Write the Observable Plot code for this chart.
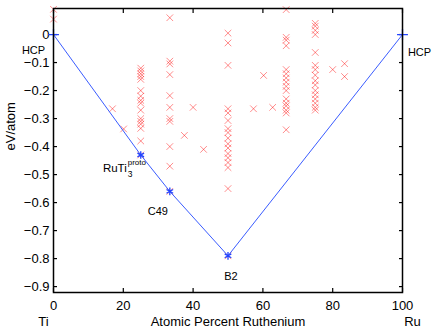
<!DOCTYPE html>
<html>
<head>
<meta charset="utf-8">
<script src="https://cdn.jsdelivr.net/npm/d3@7"></script>
<script src="https://cdn.jsdelivr.net/npm/@observablehq/plot@0.6"></script>
<style>
  body { margin: 0; background: #fff; }
  #chart svg { display: block; }
</style>
</head>
<body>
<div id="chart"></div>
<script>
// Formation energies (eV/atom) of candidate structures, by atomic percent Ru
const structX = [
  0, 0,
  16.9, 20.1,
  25, 25, 25, 25, 25, 25, 25, 25, 25, 25, 25, 25, 25, 25, 25, 25,
  33.33, 33.33, 33.33, 33.33, 33.33, 33.33, 33.33, 33.33, 33.33, 33.33, 33.33,
  37.5, 40, 43,
  50, 50, 50, 50, 50, 50, 50, 50, 50, 50, 50, 50, 50, 50, 50, 50, 50,
  57.3, 60.2, 62.8,
  66.67, 66.67, 66.67, 66.67, 66.67, 66.67, 66.67, 66.67, 66.67, 66.67, 66.67, 66.67, 66.67, 66.67, 66.67, 66.67,
  75, 75, 75, 75, 75, 75, 75, 75, 75, 75, 75, 75, 75, 75, 75, 75,
  80, 83.4, 83.4
];
const structE = [
  0.09, 0.055,
  -0.265, -0.337,
  -0.12, -0.13, -0.14, -0.15, -0.16, -0.20, -0.22, -0.235, -0.245, -0.27, -0.30, -0.31, -0.32, -0.335, -0.38, -0.43,
  0.06, -0.095, -0.105, -0.143, -0.218, -0.26, -0.30, -0.31, -0.40, -0.47, -0.56,
  -0.36, -0.26, -0.41,
  0.005, -0.03, -0.11, -0.265, -0.28, -0.307, -0.336, -0.35, -0.37, -0.39, -0.405, -0.425, -0.44, -0.457, -0.475, -0.55, -0.79,
  -0.265, -0.146, -0.26,
  0.089, -0.01, -0.02, -0.04, -0.125, -0.14, -0.155, -0.17, -0.185, -0.20, -0.23, -0.245, -0.255, -0.27, -0.28, -0.34,
  0.04, 0.03, 0.015, 0.0, -0.064, -0.11, -0.125, -0.145, -0.165, -0.18, -0.20, -0.215, -0.23, -0.245, -0.26, -0.27,
  -0.125, -0.104, -0.15
];
// Convex hull (ground states)
const hullX = [0, 25, 33.33, 50, 100];
const hullE = [0, -0.43, -0.56, -0.79, 0];
const hullNames = ["HCP", "RuTi3", "C49", "B2", "HCP"];

const xTicks = [0, 20, 40, 60, 80, 100];
const yTicks = [0, -0.1, -0.2, -0.3, -0.4, -0.5, -0.6, -0.7, -0.8, -0.9];
const yTickLabels = ["0", "\u22120.1", "\u22120.2", "\u22120.3", "\u22120.4", "\u22120.5", "\u22120.6", "\u22120.7", "\u22120.8", "\u22120.9"];

const points = structX.map((x, i) => ({x, e: structE[i]}));
const hull = hullX.map((x, i) => ({x, e: hullE[i], name: hullNames[i]}));
const hullEnds = hull.filter((d, i) => i === 0 || i === hull.length - 1);
const hullMid = hull.filter((d, i) => i > 0 && i < hull.length - 1);

const font = "Liberation Sans, Arial, Helvetica, sans-serif";

const chart = Plot.plot({
  width: 436,
  height: 330,
  marginLeft: 53,
  marginRight: 34,
  marginTop: 8,
  marginBottom: 38,
  style: {fontFamily: font, fontSize: "13px", background: "#fff", color: "#000"},
  x: {domain: [0, 100]},
  y: {domain: [-0.921, 0.093]},
  marks: [
    // tick labels
    Plot.axisY({ticks: yTicks, tickSize: 0, tickPadding: 4, tickFormat: (d) => yTickLabels[yTicks.indexOf(d)], label: null, fontSize: 13}),
    Plot.axisX({ticks: xTicks, tickSize: 0, tickPadding: 8, label: null, fontSize: 13}),
    // inward ticks
    Plot.axisY({ticks: yTicks, tickSize: -4, text: null, label: null, strokeWidth: 1.2}),
    Plot.axisY({anchor: "right", ticks: yTicks, tickSize: -4, text: null, label: null, strokeWidth: 1.2}),
    Plot.axisX({ticks: xTicks, tickSize: -4, text: null, label: null, strokeWidth: 1.2}),
    Plot.axisX({anchor: "top", ticks: xTicks, tickSize: -4, text: null, label: null, strokeWidth: 1.2}),
    // data
    Plot.dot(points, {x: "x", y: "e", symbol: "times", stroke: "red", strokeOpacity: 0.45, strokeWidth: 1, r: 3.1}),
    Plot.line(hull, {x: "x", y: "e", stroke: "#3a5cff", strokeWidth: 1}),
    Plot.dot(hullMid, {x: "x", y: "e", symbol: "asterisk", stroke: "#2244ff", strokeWidth: 1.3, r: 3.6}),
    Plot.dot(hullEnds, {x: "x", y: "e", symbol: "plus", stroke: "#2244ff", strokeWidth: 1.3, r: 3.6}),
    // annotations
    Plot.text([hull[0]], {x: "x", y: "e", text: "name", dx: -20, dy: 16, fontSize: 11, fill: "#000"}),
    Plot.text([hull[4]], {x: "x", y: "e", text: "name", dx: 17, dy: 18, fontSize: 11, fill: "#000"}),
    Plot.text([hull[1]], {x: "x", y: "e", text: () => "RuTi", dx: -14, dy: 13, textAnchor: "end", fontSize: 11.5, fill: "#000"}),
    Plot.text([hull[1]], {x: "x", y: "e", text: () => "proto", dx: -13, dy: 7, textAnchor: "start", fontSize: 8, fill: "#000"}),
    Plot.text([hull[1]], {x: "x", y: "e", text: () => "3", dx: -13, dy: 19, textAnchor: "start", fontSize: 8.5, fill: "#000"}),
    Plot.text([hull[2]], {x: "x", y: "e", text: "name", dx: -12, dy: 20, fontSize: 11, fill: "#000"}),
    Plot.text([hull[3]], {x: "x", y: "e", text: "name", dx: 3, dy: 21, fontSize: 11, fill: "#000"}),
    // axis titles and end-member labels
    Plot.text(["eV/atom"], {frameAnchor: "left", dx: -43, rotate: -90, fontSize: 13, fill: "#000"}),
    Plot.text(["Atomic Percent Ruthenium"], {frameAnchor: "bottom", dy: 24, lineAnchor: "top", fontSize: 13, fill: "#000"}),
    Plot.text([0], {x: (d) => d, text: () => "Ti", frameAnchor: "bottom", dy: 24, dx: -10, lineAnchor: "top", fontSize: 13, fill: "#000"}),
    Plot.text([100], {x: (d) => d, text: () => "Ru", frameAnchor: "bottom", dy: 24, dx: 10, lineAnchor: "top", fontSize: 13, fill: "#000"}),
    Plot.frame({stroke: "#000", strokeWidth: 1.5})
  ]
});
document.getElementById("chart").appendChild(chart);
</script>
</body>
</html>
